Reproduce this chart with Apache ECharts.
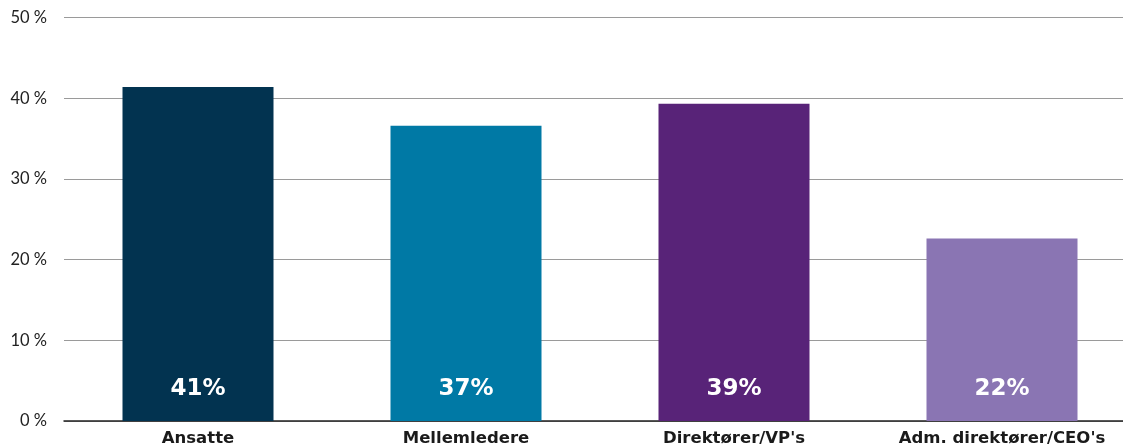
<!DOCTYPE html>
<html><head><meta charset="utf-8">
<script src="https://cdn.jsdelivr.net/npm/echarts@6/dist/echarts.min.js"></script>
<style>html,body{margin:0;padding:0;background:#fff;overflow:hidden}#c{width:1123px;height:446px}</style>
</head><body><div id="c"></div>
<script>
const categories = ["Ansatte", "Mellemledere", "Direktører/VP's", "Adm. direktører/CEO's"];
const values = [41.4, 36.6, 39.3, 22.6];
const valueLabels = ["41%", "37%", "39%", "22%"];
const barColors = ["#023350", "#0079A5", "#582378", "#8A75B3"];
const yTicks = [0, 10, 20, 30, 40, 50];

const chart = echarts.init(document.getElementById('c'));
chart.setOption({
  animation: false,
  grid: { left: 64, right: -13, top: 17.5, bottom: 25, containLabel: false, outerBoundsMode: 'none' },
  xAxis: {
    type: 'category', data: categories,
    axisLine: { lineStyle: { color: '#222', width: 1.5 } },
    axisTick: { show: false },
    axisLabel: { interval: 0, hideOverlap: false, color: '#1a1a1a', fontFamily: 'DejaVu Sans', fontWeight: 'bold', fontSize: 16.5, margin: 9 }
  },
  yAxis: {
    type: 'value', min: 0, max: 50, interval: 10,
    axisLine: { show: false }, axisTick: { show: false },
    splitLine: { lineStyle: { color: '#9a9a9a', width: 1.2 } },
    axisLabel: { color: '#222', fontFamily: 'Lato', fontSize: 16.5, margin: 17, padding: [8, 0, 0, 0],
      formatter: v => yTicks.includes(v) ? v + '\u2005%' : '' }
  },
  series: [{
    type: 'bar', barWidth: 151,
    data: values.map((v, i) => ({ value: v, itemStyle: { color: barColors[i] } })),
    label: { show: true, position: 'insideBottom', distance: 20, color: '#fff',
      fontFamily: 'DejaVu Sans', fontWeight: 'bold', fontSize: 23,
      formatter: p => valueLabels[p.dataIndex] }
  }]
});
</script></body></html>
